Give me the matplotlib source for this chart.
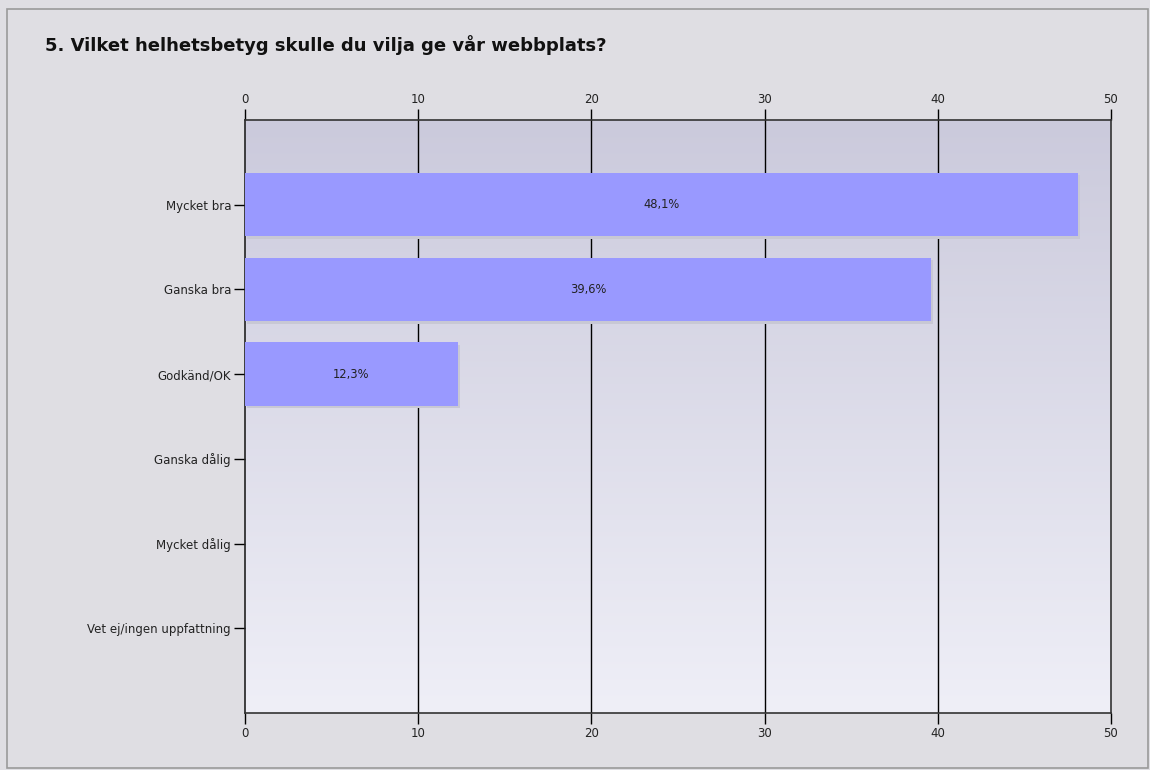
import matplotlib
matplotlib.use("Agg")
import matplotlib.pyplot as plt
import matplotlib.patches as mpatches
import numpy as np

categories = ["Mycket bra", "Ganska bra", "Godkänd/OK",
              "Ganska dålig", "Mycket dålig", "Vet ej/ingen uppfattning"]
values = [48.1, 39.6, 12.3, 0, 0, 0]
xticks = [0, 10, 20, 30, 40, 50]
title = "5. Vilket helhetsbetyg skulle du vilja ge vår webbplats?"

fig = plt.figure(figsize=(11.5, 7.7), dpi=100)
fig.patch.set_facecolor("#dfdee3")

# outer frame
fig.patches.append(mpatches.Rectangle((7 / 1150, 0.002), 1 - 9 / 1150, 1 - 9 / 770 - 0.002,
                                      transform=fig.transFigure, fill=False,
                                      ec="#9a9a9a", lw=1.2))

ax = fig.add_axes([245 / 1150, 57 / 770, 866 / 1150, 593 / 770])
ax.set_xlim(0, 50)
ax.set_ylim(6, -1)

# vertical gradient background
grad = np.linspace(0, 1, 256).reshape(-1, 1)
top = np.array([0xcb, 0xca, 0xdc]) / 255
bot = np.array([0xef, 0xef, 0xf7]) / 255
img = top + (bot - top) * grad[..., None]
ax.imshow(img, extent=(0, 50, 6, -1), aspect="auto", zorder=0)

for x in xticks[1:-1]:
    ax.axvline(x, color="black", lw=1, zorder=1)

ypos = np.arange(len(categories))
# light shadow
ax.barh(ypos + 0.03, values, height=0.75, left=0.12, color="#c8c8d4", zorder=2)
ax.barh(ypos, values, height=0.75, color="#9999ff", zorder=3)
for y, v in zip(ypos, values):
    if v > 0:
        ax.text(v / 2, y, f"{v:.1f}%".replace(".", ","), ha="center", va="center",
                fontsize=8.3, color="#222222", zorder=4)

ax.set_yticks(ypos)
ax.set_yticklabels(categories, fontsize=8.5, color="#222222")
ax.set_xticks(xticks)
ax.set_xticklabels([str(t) for t in xticks], fontsize=8.5, color="#222222")
ax.tick_params(axis="x", top=True, labeltop=True, bottom=True, labelbottom=True,
               direction="out", length=8, width=1, pad=2)
ax.tick_params(axis="y", direction="out", length=8, width=1, pad=2)

for s in ax.spines.values():
    s.set_color("#333333")
    s.set_linewidth(1.2)
ax.spines["left"].set_color("#222222")

fig.text(45 / 1150, 1 - 45 / 770, title, fontsize=13, fontweight="bold",
         color="#111111", ha="left", va="center")

fig.savefig("out.png", dpi=100, facecolor=fig.get_facecolor())
